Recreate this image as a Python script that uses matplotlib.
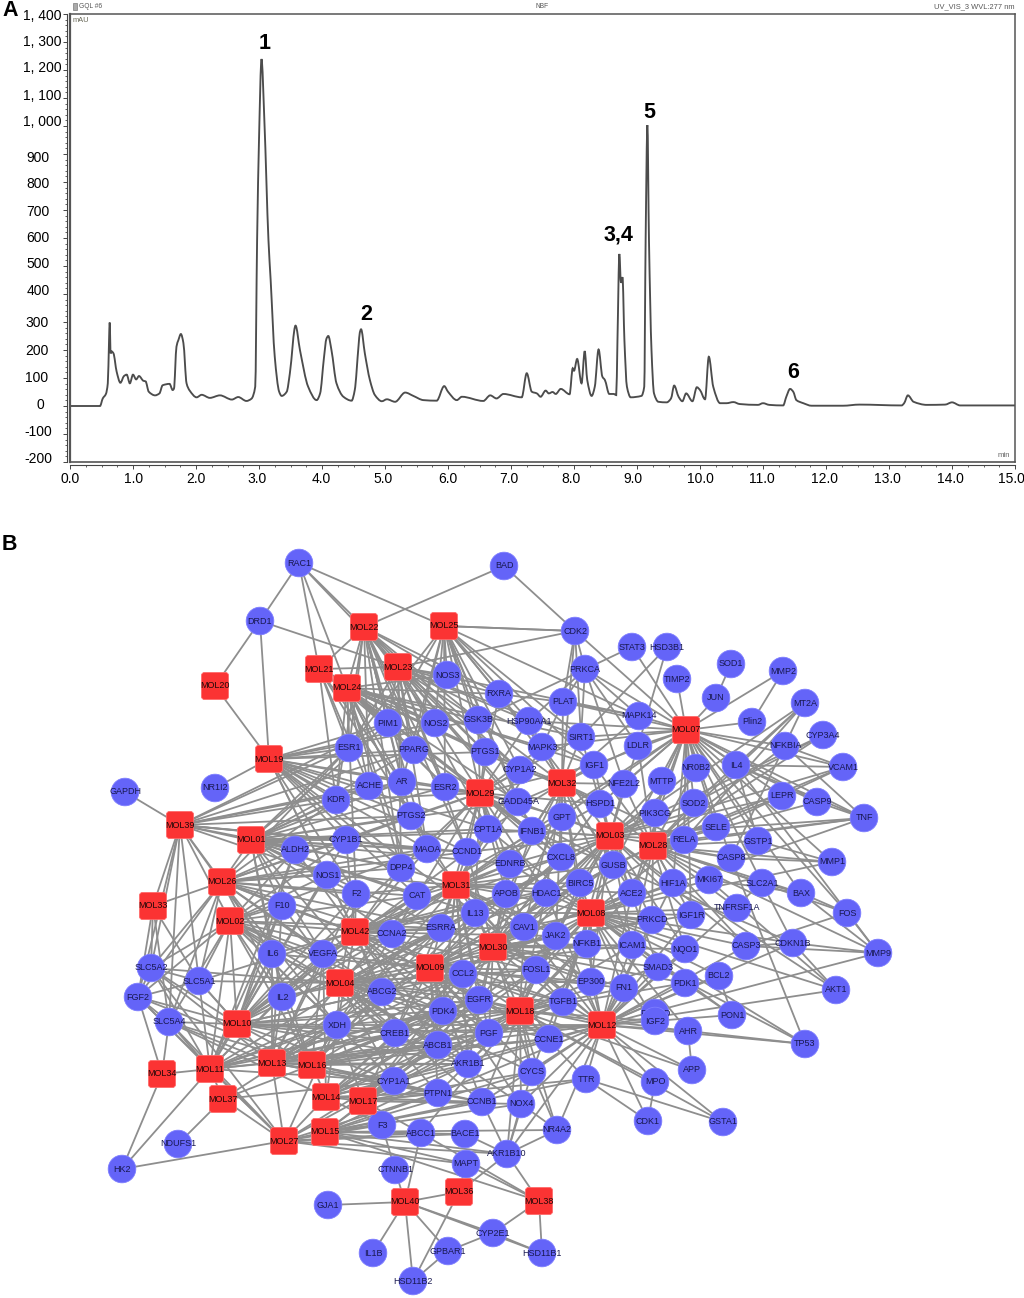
"""
Two panel figure: HPLC chromatogram (A) and compound-target network (B)
"""
import matplotlib as mpl
mpl.use('Agg')
import matplotlib.pyplot as plt
from matplotlib.collections import LineCollection
from matplotlib.patches import Circle, FancyBboxPatch, PathPatch, Rectangle
from matplotlib.path import Path
from matplotlib.transforms import ScaledTranslation

W, H = 1024, 1298

# ---- panel A data ----
rt_min = [0.0, 0.476, 0.52, 0.57, 0.6, 0.62, 0.63, 0.645, 0.66, 0.69, 0.74, 0.8, 0.857, 0.9, 0.95, 1.0, 1.05, 1.095,
          1.165, 1.2, 1.25, 1.35, 1.42, 1.47, 1.58, 1.63, 1.65, 1.69, 1.72, 1.76, 1.8, 1.85, 1.9, 2.01, 2.09, 2.22,
          2.38, 2.57, 2.67, 2.8, 2.88, 2.94, 2.97, 3.0, 3.04, 3.085, 3.15, 3.185, 3.25, 3.32, 3.36, 3.44,
          3.49, 3.58, 3.65, 3.78, 3.915, 3.97, 4.03, 4.07, 4.1, 4.15, 4.23, 4.34, 4.47, 4.52,
          4.58, 4.6, 4.62, 4.68, 4.76, 4.84, 4.95, 5.03, 5.16, 5.32, 5.45, 5.61, 5.82, 5.94, 6.0, 6.14, 6.22,
          6.56, 6.67, 6.77, 6.88, 7.17, 7.25, 7.33, 7.41, 7.47, 7.55, 7.6, 7.66, 7.71, 7.79, 7.93, 7.98, 8.0,
          8.05, 8.12, 8.17, 8.21, 8.28, 8.33, 8.39, 8.45, 8.49, 8.56, 8.63, 8.67, 8.69, 8.72, 8.745, 8.77, 8.8,
          8.84, 8.9, 9.07, 9.115, 9.137, 9.165, 9.19, 9.23, 9.27, 9.34, 9.47, 9.54, 9.59, 9.66, 9.72, 9.78, 9.88,
          9.95, 10.0, 10.08, 10.14, 10.21, 10.32, 10.42, 10.53, 10.63, 10.92, 11.0, 11.1, 11.32, 11.37, 11.43,
          11.48, 11.53, 11.64, 11.77, 12.27, 12.53, 13.2, 13.24, 13.3, 13.39, 13.6, 13.89, 14.0, 14.13, 15.0]
signal_mau = [0, 0, 27, 43, 81, 236, 298, 188, 195, 188, 123, 83, 107, 112, 81, 112, 95, 107,
              90, 88, 51, 38, 45, 74, 79, 57, 62, 212, 235, 257, 225, 81, 55, 31, 40, 29,
              38, 23, 32, 18, 26, 69, 593, 950, 1239, 1021, 593, 450, 176, 51, 36, 51,
              117, 287, 200, 69, 21, 45, 170, 240, 250, 200, 81, 33, 19, 57,
              215, 262, 274, 188, 93, 39, 17, 24, 15, 48, 36, 21, 19, 71, 51, 21, 33,
              18, 38, 27, 43, 31, 117, 51, 45, 33, 55, 45, 50, 43, 61, 42, 135, 126,
              168, 81, 196, 93, 36, 69, 202, 105, 93, 43, 43, 39, 236, 543, 440, 460, 236,
              69, 31, 36, 69, 593, 1003, 593, 200, 45, 15, 13, 27, 73, 33, 17, 45, 17,
              67, 57, 24, 176, 69, 10, 10, 14, 7, 4, 10, 4, 2, 33, 61,
              51, 21, 10, 1, 1, 5, 2, 10, 38, 15, 4, 5, 13, 2, 2]
yticks = [1400, 1300, 1200, 1100, 1000, 900, 800, 700, 600, 500, 400, 300, 200, 100, 0, -100, -200]
ytick_labels = ['1, 400', '1, 300', '1, 200', '1, 100', '1, 000', '900', '800', '700', '600',
                '500', '400', '300', '200', '100', '0', '-100', '-200']
# the software drew its labels a few px off the ticks
ytick_dx = [-1.5, -1.5, -1.5, -1.5, -1.5, -13.5, -13.5, -13.5, -13.5, -13.5, -13.5, -14.5, -14.5, -14.5, -19, -10.5, -10.5]
ytick_dy = [0, 1, 3, 3, 5, -3, -1, 0, 1, 3, 4, 0, 0, 1, 2, 3, 4]
xticks = list(range(16))
xtick_dx = [0, 1, 0, -1.5, -0.5, -2, -0.5, -2, -3, -4.5, 0, -1.5, -1, -2, -2, -4]
label_times = [3.095, 4.70, 8.71, 9.19, 11.48]
label_mau = [1296, 325, 610, 1050, 121]
peak_names = ['1', '2', '3,4', '5', '6']

# ---- panel B data ----
molecules = {
    'MOL22': (364, 627), 'MOL25': (444, 626), 'MOL21': (319, 669), 'MOL23': (398, 667), 'MOL24': (347, 688),
    'MOL20': (215, 686), 'MOL19': (269, 759), 'MOL39': (180, 825), 'MOL01': (251, 840), 'MOL26': (222, 882),
    'MOL33': (153, 906), 'MOL02': (230, 921), 'MOL42': (355, 932), 'MOL04': (340, 983), 'MOL09': (430, 968),
    'MOL30': (493, 947), 'MOL08': (591, 913), 'MOL03': (610, 836), 'MOL28': (653, 846), 'MOL31': (456, 885),
    'MOL32': (562, 783), 'MOL29': (480, 793), 'MOL07': (686, 730), 'MOL10': (237, 1024), 'MOL18': (520, 1011),
    'MOL12': (602, 1025), 'MOL34': (162, 1074), 'MOL11': (210, 1069), 'MOL13': (272, 1063), 'MOL16': (312, 1065),
    'MOL14': (326, 1097), 'MOL17': (363, 1101), 'MOL37': (223, 1099), 'MOL27': (284, 1141), 'MOL15': (325, 1132),
    'MOL40': (405, 1202), 'MOL36': (459, 1192), 'MOL38': (539, 1201),
}
targets = {
    'RAC1': (299, 563), 'DRD1': (260, 621), 'ESR1': (349, 748), 'PIM1': (388, 723), 'NOS2': (435, 723),
    'GSK3B': (478, 720), 'NOS3': (447, 675), 'RXRA': (499, 694), 'PPARG': (414, 750), 'PTGS1': (485, 752),
    'AR': (402, 782), 'ACHE': (369, 786), 'ESR2': (445, 787), 'KDR': (336, 800), 'NR1I2': (215, 788),
    'GAPDH': (125, 792), 'PTGS2': (411, 816), 'CPT1A': (488, 829), 'ALDH2': (295, 850), 'CYP1B1': (346, 840),
    'NOS1': (327, 875), 'MAOA': (427, 849), 'CCND1': (467, 852), 'DPP4': (401, 868), 'F2': (356, 894),
    'F10': (282, 906), 'CAT': (417, 896), 'IL13': (475, 913), 'BAD': (504, 566), 'CDK2': (575, 631),
    'STAT3': (632, 647), 'HSD3B1': (667, 647), 'SOD1': (731, 664), 'TIMP2': (677, 679), 'MMP2': (783, 671),
    'PRKCA': (585, 669), 'JUN': (716, 698), 'MT2A': (805, 703), 'PLAT': (563, 702), 'MAPK14': (639, 716),
    'Plin2': (752, 722), 'HSP90AA1': (529, 721), 'CYP3A4': (823, 735), 'NFKBIA': (785, 746), 'SIRT1': (581, 737),
    'LDLR': (638, 746), 'MAPK3': (542, 747), 'IGF1': (594, 765), 'NR0B2': (696, 768), 'IL4': (736, 765),
    'VCAM1': (843, 767), 'CYP1A2': (520, 770), 'NFE2L2': (624, 784), 'MTTP': (662, 781), 'HSPD1': (600, 804),
    'SOD2': (694, 803), 'LEPR': (782, 796), 'CASP9': (817, 802), 'GADD45A': (518, 802), 'PIK3CG': (655, 813),
    'TNF': (864, 818), 'GPT': (562, 817), 'SELE': (716, 827), 'IFNB1': (532, 831), 'RELA': (684, 840),
    'GSTP1': (758, 841), 'CASP8': (731, 858), 'MMP1': (832, 862), 'CXCL8': (561, 857), 'EDNRB': (510, 864),
    'GUSB': (613, 865), 'MKI67': (709, 880), 'HIF1A': (673, 883), 'SLC2A1': (762, 883), 'BAX': (801, 893),
    'BIRC5': (580, 883), 'ACE2': (632, 893), 'HDAC1': (546, 893), 'APOB': (506, 894), 'FOS': (847, 913),
    'TNFRSF1A': (737, 908), 'IGF1R': (691, 915), 'PRKCD': (652, 920), 'CAV1': (524, 927), 'JAK2': (556, 936),
    'NFKB1': (587, 944), 'ICAM1': (632, 945), 'NQO1': (685, 949), 'CASP3': (746, 946), 'CDKN1B': (793, 943),
    'MMP9': (878, 953), 'FOSL1': (536, 970), 'SMAD3': (658, 967), 'PDK1': (685, 983), 'BCL2': (719, 976),
    'AKT1': (836, 990), 'EP300': (591, 982), 'FN1': (624, 988), 'TGFB1': (563, 1002), 'PPARD': (655, 1013),
    'IGF2': (655, 1021), 'PON1': (732, 1015), 'AHR': (688, 1031), 'TP53': (805, 1044), 'CCNE1': (549, 1039),
    'PGF': (489, 1033), 'APP': (692, 1070), 'CYCS': (532, 1072), 'TTR': (586, 1079), 'MPO': (655, 1082),
    'NOX4': (521, 1104), 'CCNB1': (482, 1102), 'CDK1': (648, 1121), 'GSTA1': (723, 1122), 'NR4A2': (557, 1130),
    'AKR1B10': (507, 1154), 'CYP2E1': (493, 1233), 'HSD11B1': (542, 1253), 'CCNA2': (392, 934), 'ESRRA': (441, 928),
    'VEGFA': (323, 954), 'IL6': (272, 954), 'SLC5A2': (151, 968), 'SLC5A1': (199, 981), 'FGF2': (138, 997),
    'IL2': (282, 997), 'ABCG2': (382, 992), 'CCL2': (463, 974), 'EGFR': (479, 1000), 'PDK4': (443, 1011),
    'SLC5A4': (169, 1022), 'XDH': (337, 1025), 'CREB1': (395, 1033), 'ABCB1': (438, 1045), 'AKR1B1': (468, 1064),
    'CYP1A1': (394, 1081), 'PTPN1': (438, 1093), 'F3': (382, 1125), 'ABCC1': (421, 1133), 'BACE1': (465, 1134),
    'NDUFS1': (178, 1144), 'HK2': (122, 1169), 'MAPT': (466, 1164), 'CTNNB1': (395, 1170), 'GJA1': (328, 1205),
    'GPBAR1': (448, 1251), 'IL1B': (373, 1253), 'HSD11B2': (413, 1281),
}
# edges read hub by hub, space separated so the table stays short
edges_by_node = {
    'RAC1': 'DRD1 MOL22 MOL25 MOL21 MOL24 MOL23',
    'DRD1': 'MOL20 MOL19 MOL23',
    'BAD': 'MOL22 CDK2',
    'CDK2': 'MOL25 MOL23 PRKCA MOL07 PLAT SIRT1 MOL32',
    'MOL20': 'MOL19',
    'MOL22': 'MOL24 MOL23 NOS3 PIM1 NOS2 ESR1 PPARG RXRA GSK3B PTGS1 AR ESR2 MOL21 CYP1A2 DPP4 MAOA KDR ACHE PTGS2 CCND1',
    'MOL25': 'NOS3 PIM1 NOS2 GSK3B RXRA PPARG PTGS1 ESR1 AR ESR2 MAPK3 HSP90AA1 CDK2 CYP1A2 CPT1A IFNB1 GADD45A IGF1 SIRT1 MAPK14',
    'MOL21': 'MOL23 ESR1 PIM1 KDR ACHE AR PPARG PTGS2 NOS2',
    'MOL23': 'NOS3 PIM1 NOS2 GSK3B RXRA PTGS1 PPARG ESR2 AR SIRT1 MAPK14 HSP90AA1 ESR1 CYP1A2 CPT1A GADD45A CXCL8 IGF1 DPP4 MAOA CCND1',
    'MOL24': 'NOS3 PIM1 NOS2 GSK3B RXRA PTGS1 PPARG ESR1 ACHE AR ESR2 PTGS2 MAPK3 CYP1A2 GADD45A CPT1A DPP4 KDR MAOA IFNB1 CXCL8 SIRT1 IGF1 HSPD1 F2 CAT',
    'MOL19': 'NR1I2 ESR1 PIM1 PPARG AR ACHE PTGS2 KDR NOS2 GSK3B CYP1B1 MAOA ESR2 DPP4 F2 CAT MOL42 NOS1 CCND1 CPT1A IL13 PTGS1',
    'MOL39': 'GAPDH KDR ESR1 ACHE AR PTGS2 ALDH2 CYP1B1 SLC5A2 SLC5A1 MOL26 MOL33 MOL02 PPARG MAOA PIM1 NOS1 IL6 DPP4 CCND1 SLC5A4 FGF2',
    'MOL01': 'KDR ALDH2 CYP1B1 ACHE AR ESR1 PTGS2 NOS1 MAOA DPP4 PPARG F10 IL6 VEGFA F2 CAT MOL26 PIM1 CCND1 IL2 ABCG2 CPT1A ESR2 GADD45A EDNRB IFNB1 CCNA2 ESRRA IL13',
    'MOL26': 'ALDH2 CYP1B1 KDR NOS1 F10 F2 IL6 VEGFA MAOA DPP4 SLC5A2 SLC5A1 SLC5A4 FGF2 ESR1 PTGS2 MOL33 CAT IL2 MOL42 ABCG2 XDH CCNA2 ESRRA CCND1 CCL2',
    'MOL33': 'SLC5A2 SLC5A1 FGF2 SLC5A4',
    'MOL02': 'F10 IL6 VEGFA SLC5A2 SLC5A1 SLC5A4 IL2 NOS1 ABCG2 ALDH2 CYP1B1 XDH MOL10 CCNA2 MOL11 MAOA FGF2 CAT CREB1 PDK4 ABCB1 ESRRA CCL2 MOL16 CYP1A1',
    'MOL42': 'CCNA2 ESRRA VEGFA IL6 F2 F10 CAT NOS1 DPP4 ALDH2 CYP1B1 MAOA ABCG2 CCL2 IL13 IL2 XDH CREB1 PDK4 APOB EDNRB CAV1 SLC5A1 EGFR PGF FOSL1 JAK2 HDAC1 BIRC5 CXCL8 TGFB1 AKR1B1 ABCB1 CCNE1 GPT',
    'MOL04': 'VEGFA IL6 IL2 CCNA2 ABCG2 ESRRA XDH CREB1 CCL2 EGFR PDK4 ABCB1 SLC5A1 SLC5A2 F10 IL13 CAV1 FOSL1 PGF CYP1A1 AKR1B1 F2 JAK2 HDAC1 APOB NFKB1 TGFB1 EP300 CCNE1 CYCS CCNB1 PTPN1 NOX4',
    'MOL09': 'CCL2 ESRRA CCNA2 IL13 ABCG2 EGFR PDK4 CREB1 ABCB1 VEGFA IL2 CAV1 JAK2 FOSL1 HDAC1 APOB XDH BIRC5 NFKB1 TGFB1 PGF CCNE1 EP300 IL6 AKR1B1 CYCS NOX4 CCNB1 PTPN1 CXCL8 GUSB ACE2 ICAM1 FN1',
    'MOL30': 'CAV1 JAK2 FOSL1 NFKB1 CCL2 EGFR IL13 ESRRA APOB HDAC1 EDNRB CCND1 BIRC5 CXCL8 IFNB1 TGFB1 PGF PDK4 ABCB1 EP300 GUSB ICAM1 CREB1 CCNA2 GPT SMAD3 AKR1B1 CYCS CCNE1 NQO1 PRKCD ACE2 IGF1R PDK1 FN1 HSPD1 RELA',
    'MOL08': 'NFKB1 JAK2 CAV1 BIRC5 HDAC1 GUSB ACE2 PRKCD IGF1R ICAM1 NQO1 SMAD3 FOSL1 EP300 FN1 PDK1 CXCL8 HIF1A MKI67 CASP3 TNFRSF1A TGFB1 BCL2 AKT1 TP53 CDKN1B MMP1 TNF RELA EDNRB CCL2 EGFR IL13 APOB PGF CCNE1 IGF2 CYCS AHR PON1 CPT1A',
    'MOL03': 'GUSB RELA HSPD1 GPT CXCL8 IFNB1 PIK3CG NFE2L2 MTTP IGF1 SIRT1 BIRC5 ACE2 HIF1A EDNRB HDAC1 CCND1 CPT1A CAV1 LDLR SOD2 SELE TNF VCAM1 MT2A CYP3A4 MAPK3 NR0B2 JAK2 LEPR GADD45A NFKB1 ICAM1 PRKCD FOSL1 EP300 TGFB1 APOB IL13 ESRRA CCL2 EGFR SMAD3 NQO1 CASP8 CASP3 IGF1R',
    'MOL28': 'RELA SELE SOD2 PIK3CG GUSB ACE2 HIF1A MKI67 CASP8 GSTP1 SLC2A1 BAX FOS MMP1 TNF VCAM1 MT2A CYP3A4 NR0B2 MTTP NFE2L2 HSPD1 PRKCD IGF1R TNFRSF1A NQO1 CASP3 BIRC5 ICAM1 MMP9 LEPR NFKBIA CASP9 IGF1 LDLR',
    'MOL31': 'CAT IL13 APOB CCND1 MAOA DPP4 ESRRA CCNA2 EDNRB HDAC1 CAV1 CPT1A CXCL8 IFNB1 F2 PTGS2 BIRC5 JAK2 GADD45A NOS1 CCL2 FOSL1 NFKB1 GPT GUSB EP300 TGFB1 PGF EGFR ABCB1 CREB1 PDK4 AKR1B1 ACE2 HSPD1 VEGFA IL2 XDH MAPK3 CYP1A2',
    'MOL32': 'CYP1A2 MAPK3 SIRT1 IGF1 GPT HSPD1 GADD45A IFNB1 CPT1A CXCL8 HSP90AA1 PTGS1 NFE2L2 RXRA GSK3B EDNRB PLAT LDLR GUSB BIRC5 HDAC1 APOB CAV1 ACE2 JAK2 NFKB1 RELA MAPK14 ICAM1',
    'MOL29': 'PTGS1 ESR2 GADD45A CYP1A2 CPT1A PTGS2 MAOA CCND1 AR HSP90AA1 IFNB1 MAPK3 RXRA GSK3B PPARG NOS2 EDNRB GPT DPP4 CAT CXCL8 GUSB HDAC1 APOB BIRC5 CAV1 IL13 ESRRA CYP1B1 KDR ACHE SIRT1 IGF1 HSPD1',
    'MOL07': 'STAT3 TIMP2 JUN MMP2 Plin2 NFKBIA IL4 NR0B2 MTTP LDLR MAPK14 SIRT1 IGF1 HSP90AA1 PRKCA PLAT HSPD1 NFE2L2 FOS BAX SLC2A1 GSTP1 CASP8 SELE RELA SOD2 TNF PIK3CG CASP9 MAPK3 GPT IFNB1 VCAM1 LEPR GUSB ACE2 HIF1A IGF1R MMP1',
    'MOL10': 'XDH IL2 SLC5A1 SLC5A2 SLC5A4 FGF2 IL6 VEGFA ABCG2 CREB1 PDK4 ABCB1 MOL11 MOL16 F10 CYP1A1 CCNA2 AKR1B1 CCL2 ESRRA EGFR PGF CYP1B1 ALDH2 NOS1 F2 DPP4 CAT CCND1',
    'MOL18': 'EGFR PGF CCNE1 TGFB1 FOSL1 EP300 PDK4 CCL2 ABCB1 AKR1B1 CYCS NOX4 TTR MPO APP CCNB1 JAK2 NFKB1 FN1 GSTA1 AKR1B10 PTPN1 CAV1 SMAD3 AHR ABCG2 IL13 HDAC1 ACE2 ICAM1 BIRC5 NR4A2 IGF2 PDK1 ABCC1 CYP1A1 CREB1 XDH',
    'MOL12': 'TGFB1 EP300 FN1 IGF2 AHR PON1 AKT1 TP53 MMP9 PDK1 BCL2 SMAD3 FOSL1 CCNE1 TTR MPO APP CDK1 GSTA1 CYCS NR4A2 NOX4 AKR1B10 ICAM1 NQO1 CAV1 PGF EGFR NFKB1 CCNB1 CASP3 ABCB1 HIF1A IGF1R PRKCD ACE2 JAK2 HDAC1 IL13 CCL2 PTPN1 AKR1B1 XDH CREB1 SLC2A1 CDKN1B',
    'MOL34': 'FGF2 SLC5A4 HK2',
    'MOL11': 'HK2 XDH IL2 SLC5A4 SLC5A2 FGF2 IL6 MOL13 CREB1 ABCG2 ABCB1 MOL37 MOL27 SLC5A1 PDK4 MOL34 EGFR CCL2 ESRRA CYP1A1 ALDH2 F10 VEGFA',
    'MOL13': 'XDH IL2 CREB1 ABCB1 PDK4 ABCG2 CYP1A1 MOL27 MOL16 SLC5A1 SLC5A4 AKR1B1 EGFR PGF SLC5A2 CCNB1 PTPN1 CCNE1 CCL2 ESRRA F2 CAT IL6 VEGFA F10',
    'MOL16': 'XDH CREB1 ABCB1 ABCG2 CYP1A1 PTPN1 PDK4 MOL14 AKR1B1 EGFR PGF IL2 FGF2 SLC5A4 CCL2 CCNB1 CCNE1 TGFB1 ESRRA IL13 IL6 VEGFA CAT',
    'MOL14': 'CYP1A1 CREB1 PTPN1 ABCB1 AKR1B1 CCNB1 MOL17 MOL27 F3 XDH SLC5A4 CCNE1 PDK4 EGFR CCL2 TGFB1 FOSL1 VEGFA',
    'MOL17': 'CYP1A1 PTPN1 CCNB1 F3 ABCB1 AKR1B1 CREB1 CYCS NOX4 ABCC1 PGF EGFR PDK4 CCL2 FOSL1 TGFB1 XDH TTR',
    'MOL37': 'NDUFS1 MOL27 CREB1 CYP1A1 XDH',
    'MOL27': 'HK2 MOL15 F3 ABCC1 BACE1 SLC5A4 FGF2 SLC5A2 CYP1A1 PTPN1 MAPT AKR1B10 XDH ABCB1',
    'MOL15': 'CYP1A1 F3 ABCC1 BACE1 PTPN1 MAPT AKR1B10 CCNB1 NOX4 CYCS AKR1B1 ABCB1 MOL38 NR4A2 TTR',
    'MOL40': 'GJA1 IL1B HSD11B2 GPBAR1 CYP2E1 HSD11B1 CTNNB1 ABCC1 MOL36',
    'MOL36': 'MAPT HSD11B2 AKR1B10',
    'MOL38': 'AKR1B10 MAPT CYP2E1 HSD11B1 ABCC1',
    'CYP2E1': 'HSD11B1 GPBAR1',
    'HSD11B2': 'GPBAR1',
    'CTNNB1': 'F3',
    'SOD1': 'JUN',
    'MMP2': 'Plin2',
    'MT2A': 'RELA CASP8 SOD2',
    'NFKBIA': 'VCAM1 TNF',
    'CYP3A4': 'SOD2',
    'VCAM1': 'IL4 SELE',
    'IL4': 'TNF CASP9 GSTP1',
    'CASP9': 'TNF',
    'TNF': 'RELA',
    'MMP1': 'CASP8 GSTP1',
    'BAX': 'FOS SLC2A1 MKI67',
    'FOS': 'MMP9 CASP3',
    'MMP9': 'CDKN1B BAX CASP3 IL4',
    'AKT1': 'CDKN1B MKI67 HIF1A',
    'CDKN1B': 'SLC2A1 CASP3 IFNB1',
    'TP53': 'AHR SMAD3 CASP8',
    'AHR': 'APP',
    'PON1': 'PDK1 BCL2',
    'IGF2': 'FN1',
    'CDK1': 'TTR MPO',
    'GSTA1': 'TTR',
    'NR4A2': 'CYCS NOX4',
    'AKR1B10': 'NOX4 CYCS NR4A2 BACE1 CCNB1',
    'HSD3B1': 'SIRT1 LDLR',
    'STAT3': 'GSK3B',
    'PRKCA': 'PLAT SIRT1 LDLR HSP90AA1 NFE2L2 MAPK14',
    'MAPK14': 'PLAT',
    'PLAT': 'RXRA MAPK3',
    'FGF2': 'SLC5A2 SLC5A1 SLC5A4',
    'SLC5A2': 'SLC5A1',
}


def rounded_square(ax, x, y, size=27):
    half = size / 2 - 3
    ax.add_patch(FancyBboxPatch((x - half, y - half), 2 * half, 2 * half,
                                boxstyle='round,pad=3,rounding_size=3',
                                fc='#fb3333', ec='#ff6a6a', lw=0.6, zorder=3))


def smooth_path(xs, ys):
    """Bezier path through every read point, flat at the turning points so peaks stay round"""
    slopes = [(ys[i + 1] - ys[i]) / (xs[i + 1] - xs[i]) for i in range(len(xs) - 1)]
    tang = [0.0] * len(xs)
    for i in range(1, len(xs) - 1):
        if slopes[i - 1] * slopes[i] > 0:
            tang[i] = 2 * slopes[i - 1] * slopes[i] / (slopes[i - 1] + slopes[i])
    verts, codes = [(xs[0], ys[0])], [Path.MOVETO]
    for i in range(len(xs) - 1):
        step = (xs[i + 1] - xs[i]) / 3
        verts += [(xs[i] + step, ys[i] + tang[i] * step),
                  (xs[i + 1] - step, ys[i + 1] - tang[i + 1] * step),
                  (xs[i + 1], ys[i + 1])]
        codes += [Path.CURVE4] * 3
    return Path(verts, codes)


mpl.rcParams['font.family'] = ['Liberation Sans', 'DejaVu Sans']
fig = plt.figure(figsize=(W / 100, H / 100), dpi=100, facecolor='white')

# ---- network, in a full figure axes that counts pixels ----
bg = fig.add_axes([0, 0, 1, 1])
bg.set_xlim(0, W)
bg.set_ylim(H, 0)
bg.axis('off')

nodes = {**molecules, **targets}
segments = []
for src, dests in edges_by_node.items():
    for dst in dests.split():
        segments.append([nodes[src], nodes[dst]])
bg.add_collection(LineCollection(segments, colors='#8e8e8e', linewidths=1.3, zorder=1))

for name, (x, y) in targets.items():
    bg.add_patch(Circle((x, y), 13.8, fc='#6464f8', ec='#7d7dff', lw=0.6, zorder=2))
    bg.text(x, y, name, fontsize=6.5, color='#181850', ha='center', va='center', zorder=2)
for name, (x, y) in molecules.items():
    rounded_square(bg, x, y)
    bg.text(x, y, name, fontsize=6.5, color='#200808', ha='center', va='center', zorder=4)

bg.text(2, 10, 'A', fontsize=15.5, fontweight='bold', color='black', va='center')
bg.text(2, 545, 'B', fontsize=15.5, fontweight='bold', color='black', va='center')

# ---- chromatogram ----
left, right, top, bottom = 70, 1015, 14, 462
ax = fig.add_axes([left / W, 1 - bottom / H, (right - left) / W, (bottom - top) / H])
ax.patch.set_alpha(0)
ax.add_patch(PathPatch(smooth_path(rt_min, signal_mau), fc='none', ec='#4c4c4c', lw=1.35))
ax.set_xlim(0, 15)
ax.set_ylim(-200, 1400)

ax.set_xticks(xticks)
ax.set_xticklabels([f'{t:.1f}' for t in xticks], fontsize=7.3, color='#333333')
ax.set_xticks([i * 0.25 for i in range(61)], minor=True)
ax.set_yticks(yticks)
ax.set_yticklabels(ytick_labels, fontsize=9, color='#333333', family=['Liberation Sans Narrow', 'Liberation Sans'])
ax.set_yticks(list(range(-200, 1401, 20)), minor=True)
ax.tick_params(axis='both', which='major', length=2.6, width=0.7, color='#444444', pad=1)
ax.tick_params(axis='both', which='minor', length=1.5, width=0.6, color='#444444')
ax.tick_params(axis='x', which='major', pad=2.5)
ax.tick_params(axis='y', which='major', pad=0)

# axis lines sit a few px away from the plot frame
for side in ['left', 'bottom']:
    ax.spines[side].set_position(('outward', 2.4))
    ax.spines[side].set_linewidth(0.8)
    ax.spines[side].set_color('#444444')
for side in ['top', 'right']:
    ax.spines[side].set_linewidth(1.1)
    ax.spines[side].set_color('#555555')
ax.axvline(0, color='#555555', lw=1.6, clip_on=False)
ax.axhline(-200, color='#555555', lw=1.2, clip_on=False)

for label, dx, dy in zip(ax.get_yticklabels(), ytick_dx, ytick_dy):
    label.set_transform(label.get_transform() + ScaledTranslation(dx / 100, dy / 100, fig.dpi_scale_trans))
for label, dx in zip(ax.get_xticklabels(), xtick_dx):
    label.set_transform(label.get_transform() + ScaledTranslation(dx / 100, 0, fig.dpi_scale_trans))

# tiny header text of the instrument software, placed in axes fractions
for xf, txt, ha, size in [(0.0095, 'GQL #6', 'left', 4.8), (0.4995, 'NBF', 'center', 4.8),
                          (1.0, 'UV_VIS_3 WVL:277 nm', 'right', 5.4)]:
    ax.text(xf, 1.016, txt, transform=ax.transAxes, fontsize=size, color='#555555', ha=ha, va='center')
ax.add_patch(Rectangle((0.003, 1.008), 0.0045, 0.016, transform=ax.transAxes, fc='#aaaaaa', ec='#666666',
                       lw=0.4, clip_on=False))
ax.text(0.0025, 0.986, 'mAU', transform=ax.transAxes, fontsize=5.4, color='#666655', ha='left', va='center')
ax.text(0.995, 0.0155, 'min', transform=ax.transAxes, fontsize=5.6, color='#666666', ha='right', va='center')

for t, v, name in zip(label_times, label_mau, peak_names):
    ax.text(t, v, name, ha='center', va='center', fontsize=15.5, fontweight='bold', color='black')

fig.savefig('out.png', dpi=100)
